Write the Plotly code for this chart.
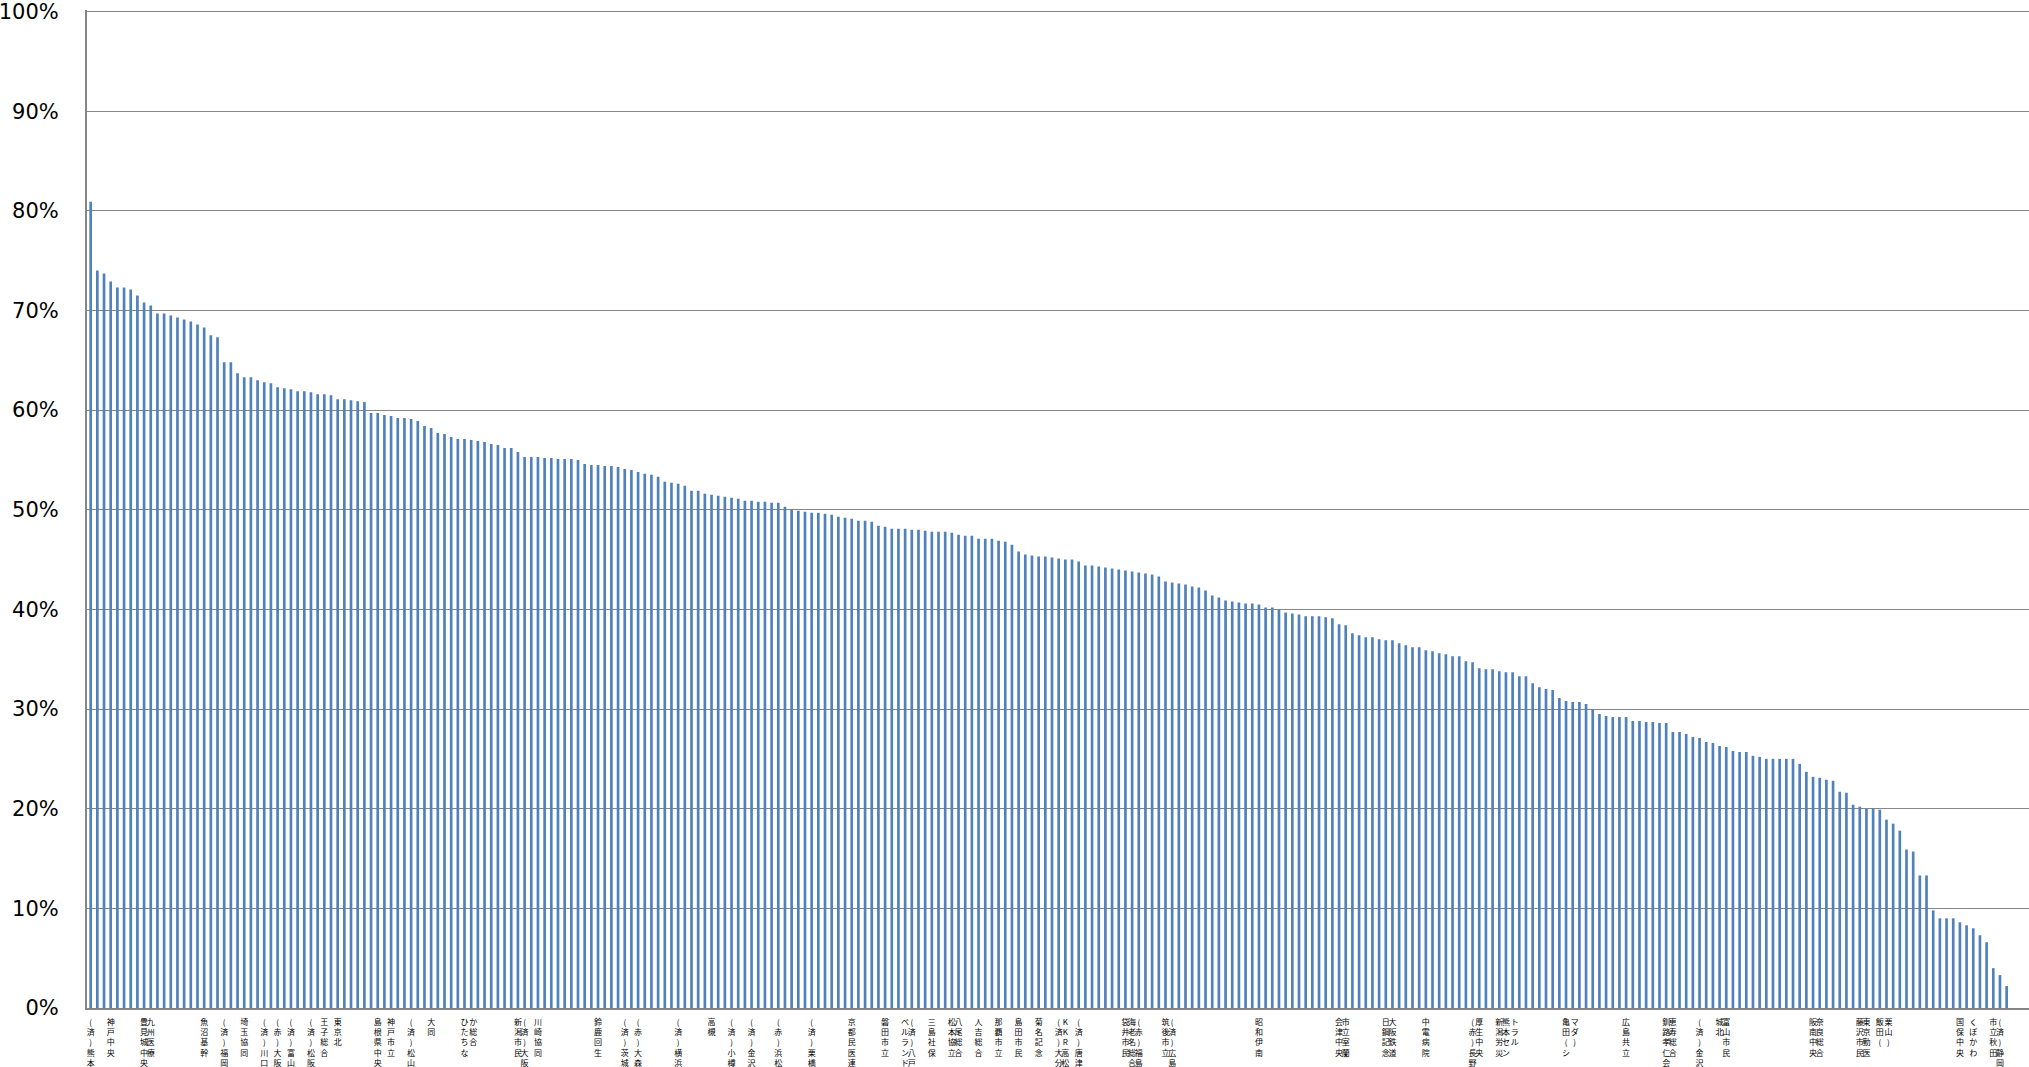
import plotly.graph_objects as go

# Share (%) per hospital, sorted descending
values = [
    80.9, 74.0, 73.7, 72.9, 72.3, 72.3, 72.1, 71.5, 70.8, 70.5,
    69.7, 69.7, 69.5, 69.3, 69.1, 68.9, 68.6, 68.3, 67.5, 67.3,
    64.8, 64.8, 63.7, 63.3, 63.3, 63.0, 62.8, 62.7, 62.3, 62.2,
    62.1, 61.9, 61.9, 61.8, 61.6, 61.6, 61.5, 61.1, 61.1, 61.0,
    60.9, 60.8, 59.7, 59.7, 59.5, 59.4, 59.2, 59.2, 59.1, 58.9,
    58.4, 58.2, 57.7, 57.6, 57.3, 57.1, 57.1, 57.0, 56.9, 56.8,
    56.6, 56.5, 56.2, 56.2, 55.8, 55.3, 55.3, 55.3, 55.2, 55.2,
    55.1, 55.1, 55.1, 55.0, 54.6, 54.5,
    54.5, 54.4, 54.4, 54.3, 54.1, 54.0, 53.8, 53.6, 53.5, 53.3,
    52.8, 52.7, 52.6, 52.4, 51.9, 51.9, 51.6, 51.5, 51.4, 51.3,
    51.2, 51.1, 50.9, 50.9, 50.8, 50.8, 50.7, 50.7, 50.3, 50.0,
    49.9, 49.8, 49.7, 49.7, 49.6, 49.5, 49.3, 49.2, 49.1, 48.9,
    48.9, 48.8, 48.4, 48.3, 48.1, 48.1, 48.1, 48.0, 48.0, 47.9,
    47.8, 47.8, 47.8, 47.7, 47.5, 47.4, 47.4, 47.1, 47.1, 47.1,
    46.9, 46.8, 46.5, 45.8, 45.5, 45.4, 45.3, 45.3, 45.2, 45.1,
    45.0, 45.0, 44.8, 44.4, 44.4,
    44.3, 44.2, 44.1, 44.0, 43.9, 43.8, 43.7, 43.6, 43.5, 43.3,
    42.8, 42.7, 42.6, 42.5, 42.3, 42.2, 41.9,
    41.4, 41.2, 40.9, 40.8, 40.7, 40.6, 40.6, 40.5, 40.2, 40.2,
    40.0, 39.7, 39.6, 39.5, 39.3, 39.3, 39.3, 39.2, 39.1, 38.5,
    38.4, 37.6, 37.4, 37.2, 37.2, 37.0, 36.9, 36.9, 36.6, 36.4,
    36.2, 36.2, 35.9, 35.8, 35.6, 35.5, 35.3, 35.3, 34.8, 34.7,
    34.1, 34.0, 34.0, 33.8, 33.7, 33.7, 33.3, 33.3, 32.6, 32.2,
    32.0, 31.9, 31.1, 30.8, 30.7, 30.7, 30.5, 30.0,
    29.5, 29.3, 29.2, 29.2, 29.2, 28.8, 28.8, 28.7, 28.7, 28.6,
    28.6, 27.7, 27.7, 27.5, 27.2, 27.1, 26.7, 26.6, 26.3, 26.2,
    25.8, 25.7, 25.7, 25.3, 25.2, 25.0, 25.0, 25.0, 25.0, 25.0,
    24.5, 23.7, 23.2, 23.1, 22.9, 22.8, 21.7, 21.6, 20.4, 20.2,
    20.0, 20.0, 19.9, 18.9, 18.5, 17.8, 15.9, 15.7, 13.3, 13.3,
    9.8, 9.0, 9.0, 9.0, 8.6, 8.3, 8.0, 7.3, 6.6, 4.0,
    3.3, 2.2,
]

# Sparse category labels (index of bar, label text)
label_index = [
    0, 3, 8, 9, 17, 20, 23, 26, 28, 30, 33, 35, 37, 43, 45, 48, 51, 56,
    64, 65, 67, 76, 80, 82, 88, 93, 96, 99, 103, 108, 114, 119, 122, 123,
    126, 129, 130, 133, 136, 139, 142, 145, 146, 148, 155, 156, 157, 161,
    162, 175, 187, 188, 194, 195, 200, 207, 208, 211, 212, 221, 230, 236,
    237, 241, 244, 245, 258, 259, 265, 266, 268, 280, 282, 285, 286,
]
label_text = [
    "(済)熊本", "神戸中央", "豊見城中央", "九州医療", "魚沼基幹", "(済)福岡",
    "埼玉協同", "(済)川口", "(赤)大阪", "(済)富山", "(済)松阪", "王子総合",
    "東京北", "島根県中央", "神戸市立", "(済)松山", "大同", "ひたちなか総合",
    "新潟市民", "(済)大阪", "川崎協同", "鈴鹿回生", "(済)茨城", "(赤)大森",
    "(済)横浜", "高槻", "(済)小樽", "(済)金沢", "(赤)浜松", "(済)栗橋",
    "京都民医連", "磐田市立", "ベルランド", "(済)八戸", "三島社保", "松本協立",
    "八尾総合", "人吉総合", "那覇市立", "島田市民", "菊名記念", "(済)大分",
    "KKR高松", "(済)唐津", "袋井市民", "海老名総合", "(赤)福島", "筑後市立",
    "(済)広島", "昭和伊南", "会津中央", "市立室蘭", "日鋼記念", "大阪鉄道",
    "中電病院", "(赤)長野", "厚生中央", "新潟労災", "熊本セントラル",
    "亀田(シマダ)", "広島共立", "釧路孝仁会", "恵寿総合", "(済)金沢", "城北",
    "富山市民", "阪南中央", "奈良総合", "藤沢市民", "東京勤医", "飯田(栗山)",
    "国保中央", "くぼかわ", "市立秋田", "(済)静岡",
]

y_ticks = list(range(0, 101, 10))

x = list(range(len(values)))

# Build stacked (vertical) tick labels; long names wrap into a second column
tick_positions = []
tick_strings = []
for pos, text in zip(label_index, label_text):
    chars = list(text)
    if len(chars) > 5:
        half = (len(chars) + 1) // 2
        cols = [chars[:half], chars[half:]]
    else:
        cols = [chars]
    for c, col in enumerate(cols):
        tick_positions.append(pos + 1.3 * c)
        tick_strings.append("<br>".join(col))

fig = go.Figure(
    go.Bar(
        x=x,
        y=values,
        width=0.4,
        marker=dict(color="#4F81BD", line=dict(width=0)),
        hoverinfo="skip",
    )
)

fig.update_layout(
    width=2029,
    height=1067,
    margin=dict(l=87, r=0, t=10, b=59, autoexpand=False),
    plot_bgcolor="white",
    paper_bgcolor="white",
    showlegend=False,
    bargap=0.6,
)

fig.update_xaxes(
    range=[-0.55, 290.35],
    tickmode="array",
    tickvals=tick_positions,
    ticktext=tick_strings,
    tickangle=0,
    tickfont=dict(family="Noto Sans CJK JP", size=8, color="black"),
    showgrid=False,
    showline=True,
    linecolor="#868686",
    linewidth=2,
    zeroline=False,
    ticks="",
    ticklabelstandoff=5,
    ticklabeloverflow="allow",
    automargin=False,
)

fig.update_yaxes(
    range=[0, 100.15],
    tickmode="array",
    tickvals=y_ticks,
    ticktext=[f"{v}%" for v in y_ticks],
    tickfont=dict(family="DejaVu Sans", size=21, color="black"),
    gridcolor="#868686",
    gridwidth=1.3,
    showline=True,
    linecolor="#868686",
    linewidth=2,
    zeroline=False,
    ticks="",
    ticklabelstandoff=22,
    ticklabeloverflow="allow",
    automargin=False,
)

fig.write_html(
    "out.html",
    config={"displayModeBar": False},
    post_script="document.body.style.margin='0';",
)
